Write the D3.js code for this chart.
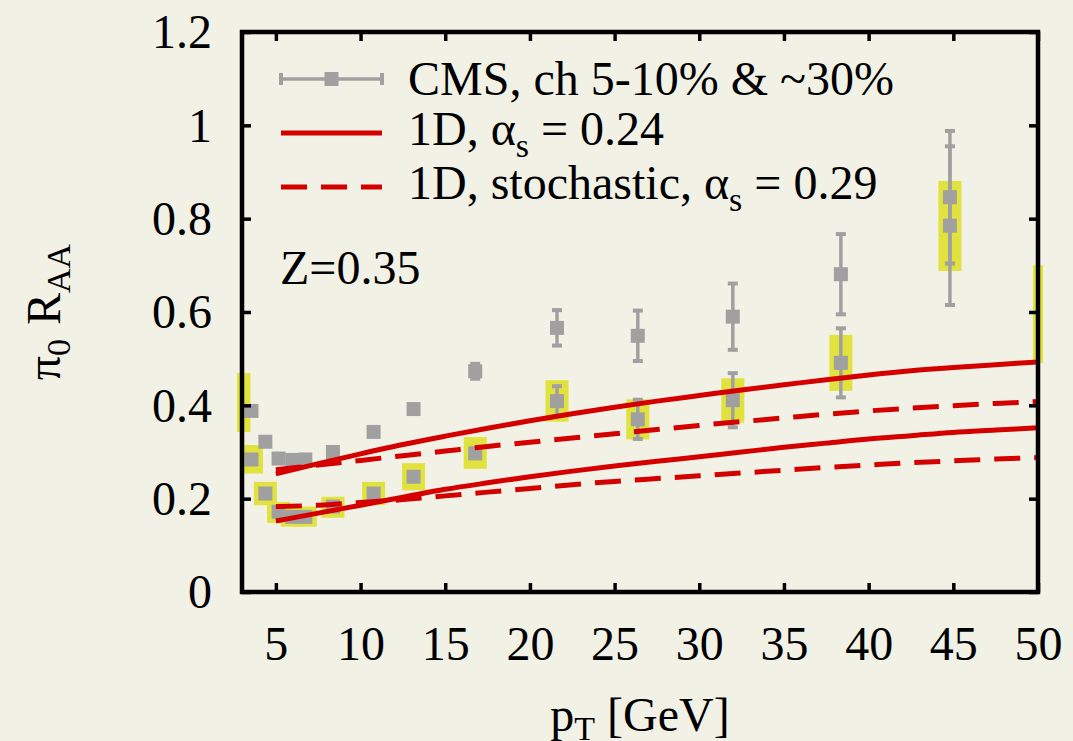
<!DOCTYPE html>
<html>
<head>
<meta charset="utf-8">
<script src="https://cdn.jsdelivr.net/npm/d3@7"></script>
<style>
  body { margin: 0; background: #f2f1e6; }
  svg { display: block; }
  text { font-family: "Liberation Serif", "Times New Roman", serif; fill: #000; }
</style>
</head>
<body>
<svg id="chart" width="1073" height="741"></svg>
<script>
// CMS data points (two centrality classes share the same pT bins)
const pT = [3.56, 4.38, 5.16, 5.97, 6.74, 8.37, 10.77, 13.13, 16.77, 21.6, 26.37, 31.98, 38.36, 44.8];
const raaHigh = [0.388, 0.322, 0.286, 0.283, 0.284, 0.300, 0.343, 0.392, 0.473, 0.566, 0.549, 0.590, 0.681, 0.846];
const errHigh = [0.005, 0.004, 0.004, 0.004, 0.004, 0.005, 0.006, 0.009, 0.016, 0.038, 0.054, 0.071, 0.086, 0.142];
const raaLow = [0.284, 0.211, 0.172, 0.161, 0.161, 0.183, 0.211, 0.247, 0.297, 0.409, 0.370, 0.411, 0.491, 0.785];
const errLow = [0.004, 0.003, 0.003, 0.003, 0.003, 0.004, 0.005, 0.006, 0.010, 0.032, 0.042, 0.058, 0.074, 0.170];
const sysLowLo = [0.254, 0.186, 0.148, 0.140, 0.140, 0.159, 0.186, 0.218, 0.264, 0.365, 0.327, 0.363, 0.431, 0.688];
const sysLowHi = [0.315, 0.236, 0.193, 0.183, 0.183, 0.204, 0.236, 0.276, 0.332, 0.454, 0.413, 0.458, 0.551, 0.881];
const BOX_HALF = 0.68; // GeV
// partially visible systematic boxes at the plot edges
const edgeBoxes = [
  { x0: 2.7, x1: 3.5, lo: 0.343, hi: 0.469 },
  { x0: 49.7, x1: 50.3, lo: 0.491, hi: 0.700 },
];

// model curves
const curveX = [5, 7.5, 10, 12.5, 15, 17.5, 20, 22.5, 25, 27.5, 30, 32.5, 35, 37.5, 40, 42.5, 45, 47.5, 50];
const solidHigh = [0.253, 0.275, 0.296, 0.316, 0.334, 0.351, 0.367, 0.382, 0.396, 0.409, 0.421, 0.433, 0.444, 0.455, 0.465, 0.474, 0.481, 0.487, 0.493];
const dashHigh = [0.262, 0.272, 0.282, 0.292, 0.302, 0.312, 0.321, 0.330, 0.339, 0.348, 0.357, 0.365, 0.373, 0.381, 0.388, 0.394, 0.399, 0.404, 0.408];
const solidLow = [0.152, 0.169, 0.186, 0.203, 0.220, 0.234, 0.247, 0.259, 0.270, 0.280, 0.290, 0.300, 0.310, 0.319, 0.328, 0.335, 0.342, 0.347, 0.352];
const dashLow = [0.183, 0.186, 0.192, 0.198, 0.206, 0.214, 0.222, 0.230, 0.237, 0.243, 0.249, 0.255, 0.261, 0.267, 0.272, 0.277, 0.281, 0.285, 0.288];

const xTicks = [5, 10, 15, 20, 25, 30, 35, 40, 45, 50];
const yTicks = [0, 0.2, 0.4, 0.6, 0.8, 1.0, 1.2];

const RED = "#d40000";
const GRAY = "#a0a0a0";
const YELLOW = "#e2e23e";
const FONT = 48;

const svg = d3.select("#chart");
const width = 1073, height = 741;
const plot = { left: 242, right: 1038, top: 32, bottom: 592 };

const x = d3.scaleLinear().domain([3, 50]).range([plot.left, plot.right]);
const y = d3.scaleLinear().domain([0, 1.2]).range([plot.bottom, plot.top]);

svg.append("rect").attr("width", width).attr("height", height).attr("fill", "#f2f1e6");

// systematic boxes
const boxes = pT.map((p, i) => ({ x0: p - BOX_HALF, x1: p + BOX_HALF, lo: sysLowLo[i], hi: sysLowHi[i] }))
  .concat(edgeBoxes);
svg.append("g")
  .selectAll("rect")
  .data(boxes)
  .join("rect")
  .attr("x", (d) => x(d.x0))
  .attr("width", (d) => x(d.x1) - x(d.x0))
  .attr("y", (d) => y(d.hi))
  .attr("height", (d) => y(d.lo) - y(d.hi))
  .attr("fill", YELLOW);

// data points with error bars
function drawPoints(vals, errs) {
  const pts = pT.map((p, i) => ({ p, v: vals[i], e: errs[i] }));
  const g = svg.append("g");
  g.selectAll(".bar")
    .data(pts)
    .join("line")
    .attr("x1", (d) => x(d.p)).attr("x2", (d) => x(d.p))
    .attr("y1", (d) => y(d.v - d.e)).attr("y2", (d) => y(d.v + d.e))
    .attr("stroke", GRAY).attr("stroke-width", 3.5);
  g.selectAll(".capTop")
    .data(pts)
    .join("line")
    .attr("x1", (d) => x(d.p) - 5).attr("x2", (d) => x(d.p) + 5)
    .attr("y1", (d) => y(d.v + d.e)).attr("y2", (d) => y(d.v + d.e))
    .attr("stroke", GRAY).attr("stroke-width", 4);
  g.selectAll(".capBot")
    .data(pts)
    .join("line")
    .attr("x1", (d) => x(d.p) - 5).attr("x2", (d) => x(d.p) + 5)
    .attr("y1", (d) => y(d.v - d.e)).attr("y2", (d) => y(d.v - d.e))
    .attr("stroke", GRAY).attr("stroke-width", 4);
  g.selectAll(".mark")
    .data(pts)
    .join("rect")
    .attr("x", (d) => x(d.p) - 7)
    .attr("y", (d) => y(d.v) - 7)
    .attr("width", 14).attr("height", 14)
    .attr("fill", GRAY);
}
drawPoints(raaHigh, errHigh);
drawPoints(raaLow, errLow);

// model curves
const line = d3.line()
  .x((d) => x(d[0]))
  .y((d) => y(d[1]))
  .curve(d3.curveMonotoneX);

[
  { vals: solidHigh, dash: null },
  { vals: dashHigh, dash: "26 14" },
  { vals: solidLow, dash: null },
  { vals: dashLow, dash: "26 14" },
].forEach((c) => {
  svg.append("path")
    .datum(curveX.map((p, i) => [p, c.vals[i]]))
    .attr("d", line)
    .attr("fill", "none")
    .attr("stroke", RED)
    .attr("stroke-width", 5)
    .attr("stroke-dasharray", c.dash);
});

// frame
svg.append("rect")
  .attr("x", plot.left).attr("y", plot.top)
  .attr("width", plot.right - plot.left).attr("height", plot.bottom - plot.top)
  .attr("fill", "none").attr("stroke", "#000").attr("stroke-width", 4.5);

// axes
const styleAxis = (g) => {
  g.select(".domain").remove();
  g.selectAll(".tick line").attr("stroke", "#000").attr("stroke-width", 3.5);
  g.selectAll("text").style("font-size", FONT + "px").attr("fill", "#000");
};

svg.append("g")
  .attr("transform", `translate(0,${plot.bottom})`)
  .call(d3.axisBottom(x).tickValues(xTicks).tickSize(-9).tickPadding(34))
  .call(styleAxis);
svg.append("g")
  .attr("transform", `translate(0,${plot.top})`)
  .call(d3.axisTop(x).tickValues(xTicks).tickSize(-9).tickFormat(""))
  .call(styleAxis);
svg.append("g")
  .attr("transform", `translate(${plot.left},0)`)
  .call(d3.axisLeft(y).tickValues(yTicks).tickSize(-9).tickPadding(30)
    .tickFormat((d) => d3.format("~g")(+d.toFixed(1))))
  .call(styleAxis)
  .call((g) => g.selectAll("text").attr("dy", "0.33em"));
svg.append("g")
  .attr("transform", `translate(${plot.right},0)`)
  .call(d3.axisRight(y).tickValues(yTicks).tickSize(-9).tickFormat(""))
  .call(styleAxis);

// axis titles
const xTitle = svg.append("text")
  .attr("x", (plot.left + plot.right) / 2)
  .attr("y", 731)
  .attr("text-anchor", "middle")
  .style("font-size", FONT + "px");
xTitle.append("tspan").text("p");
xTitle.append("tspan").attr("dy", 9).style("font-size", "34px").text("T");
xTitle.append("tspan").attr("dy", -9).text(" [GeV]");

const yTitle = svg.append("text")
  .attr("transform", `translate(60,${(plot.top + plot.bottom) / 2}) rotate(-90)`)
  .attr("text-anchor", "middle")
  .style("font-size", FONT + "px");
yTitle.append("tspan").text("π");
yTitle.append("tspan").attr("dy", 10).style("font-size", "34px").text("0");
yTitle.append("tspan").attr("dy", -10).attr("dx", 14).text("R");
yTitle.append("tspan").attr("dy", 10).style("font-size", "34px").text("AA");

// legend
const legend = svg.append("g");
const lx0 = 281, lx1 = 382, tx = 408;
const rows = [79, 133, 187];

legend.append("line")
  .attr("x1", lx0).attr("x2", lx1).attr("y1", rows[0]).attr("y2", rows[0])
  .attr("stroke", GRAY).attr("stroke-width", 3.5);
[lx0, lx1].forEach((cx) => {
  legend.append("line")
    .attr("x1", cx).attr("x2", cx).attr("y1", rows[0] - 6).attr("y2", rows[0] + 6)
    .attr("stroke", GRAY).attr("stroke-width", 4);
});
legend.append("rect")
  .attr("x", (lx0 + lx1) / 2 - 7).attr("y", rows[0] - 7)
  .attr("width", 14).attr("height", 14).attr("fill", GRAY);

legend.append("line")
  .attr("x1", lx0).attr("x2", lx1).attr("y1", rows[1]).attr("y2", rows[1])
  .attr("stroke", RED).attr("stroke-width", 5);
legend.append("line")
  .attr("x1", lx0).attr("x2", lx1).attr("y1", rows[2]).attr("y2", rows[2])
  .attr("stroke", RED).attr("stroke-width", 5).attr("stroke-dasharray", "26 14");

legend.append("text")
  .attr("x", tx).attr("y", rows[0] + 16)
  .style("font-size", FONT + "px")
  .text("CMS, ch 5-10% & ~30%");

function alphaLabel(yPos, prefix, value) {
  const t = legend.append("text")
    .attr("x", tx).attr("y", yPos + 12)
    .style("font-size", FONT + "px");
  t.append("tspan").text(prefix + "α");
  t.append("tspan").attr("dy", 12).style("font-size", "34px").text("s");
  t.append("tspan").attr("dy", -12).text(" = " + value);
}
alphaLabel(rows[1], "1D, ", "0.24");
alphaLabel(rows[2], "1D, stochastic, ", "0.29");

svg.append("text")
  .attr("x", 280).attr("y", 284)
  .style("font-size", FONT + "px")
  .text("Z=0.35");
</script>
</body>
</html>
